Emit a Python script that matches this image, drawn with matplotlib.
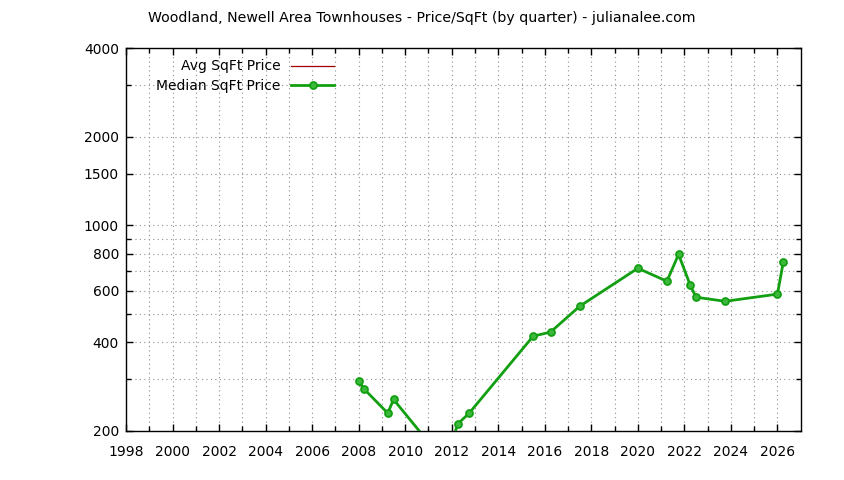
import matplotlib
matplotlib.use("Agg")
import matplotlib.pyplot as plt
from matplotlib.ticker import FixedLocator, NullFormatter, FixedFormatter

title = "Woodland, Newell Area Townhouses - Price/SqFt (by quarter) - julianalee.com"

years = [2008.0, 2008.25, 2009.25, 2009.5, 2011.75, 2012.25, 2012.75, 2015.5, 2016.25,
         2017.5, 2020.0, 2021.25, 2021.75, 2022.25, 2022.5, 2023.75, 2026.0, 2026.25]
median_price = [296, 277, 230, 256, 155, 211, 230, 420, 434,
                531, 715, 646, 797, 627, 570, 552, 584, 749]
avg_price = [290, 277, 230, 256, 155, 211, 230, 420, 434,
             531, 715, 646, 797, 627, 570, 552, 584, 749]

y_major = [200, 400, 600, 800, 1000, 1500, 2000, 4000]
y_minor = [300, 500, 700, 900, 3000]
x_major = list(range(1998, 2027, 2))
x_minor = list(range(1999, 2027, 2))

plt.rcParams['font.family'] = ['DejaVu Sans']
fig = plt.figure(figsize=(8.44, 4.8), dpi=100)
ax = fig.add_axes([126/844, 49/480, 674.7/844, 382.7/480])

ax.plot(years, avg_price, color='#a00000', lw=0.9, label='Avg SqFt Price', zorder=3)
ax.plot(years, median_price, color='#12a012', lw=2, marker='o', markersize=5,
        markerfacecolor='#3cb83c', markeredgecolor='#12a012', markeredgewidth=1.3,
        label='Median SqFt Price', zorder=4)

ax.set_yscale('log')
ax.set_ylim(200, 4000)
ax.set_xlim(1998, 2027)

ax.yaxis.set_major_locator(FixedLocator(y_major))
ax.yaxis.set_major_formatter(FixedFormatter([str(v) for v in y_major]))
ax.yaxis.set_minor_locator(FixedLocator(y_minor))
ax.yaxis.set_minor_formatter(NullFormatter())
ax.xaxis.set_major_locator(FixedLocator(x_major))
ax.xaxis.set_major_formatter(FixedFormatter([str(v) for v in x_major]))
ax.xaxis.set_minor_locator(FixedLocator(x_minor))

ax.tick_params(which='both', direction='in', top=True, right=True, labelsize=10,
               colors='black', width=1)
ax.tick_params(which='major', length=5)
ax.tick_params(axis='y', which='major', pad=5)
ax.tick_params(axis='x', which='major', pad=10)
ax.tick_params(which='minor', length=3.5)

ax.grid(True, which='both', linestyle=(0, (1, 3)), color='#909090', lw=0.8)
ax.set_axisbelow(True)
for s in ax.spines.values():
    s.set_linewidth(1)
    s.set_color('black')

leg = ax.legend(loc='upper left', bbox_to_anchor=(0.041, 0.978), frameon=False,
                markerfirst=False, fontsize=10, handlelength=3.1, handletextpad=0.75,
                labelspacing=0.42, borderpad=0.2, borderaxespad=0)

fig.text(422/844, 1 - 18/480, title, ha='center', va='center', fontsize=10.2)

fig.savefig('out.png', dpi=100)
